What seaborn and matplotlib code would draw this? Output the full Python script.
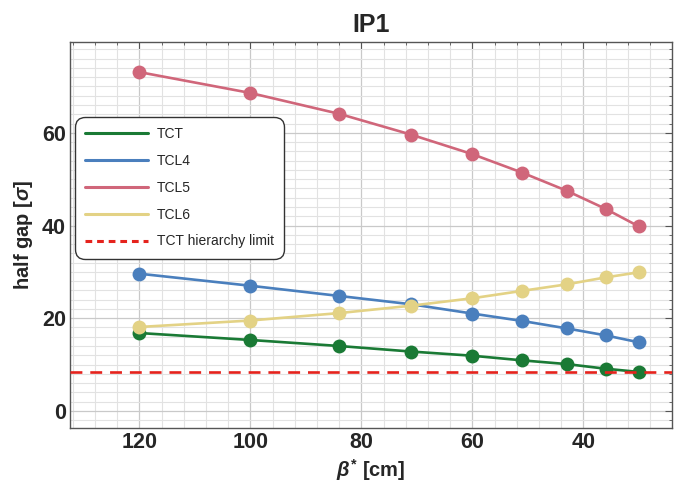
import numpy as np
import pandas as pd
import matplotlib
matplotlib.use("Agg")
import matplotlib.pyplot as plt
import seaborn as sns
from matplotlib.ticker import MultipleLocator
from matplotlib.lines import Line2D

# ---- data ----
beta_star = [120, 100, 84, 71, 60, 51, 43, 36, 30]
tct  = [16.8, 15.3, 14.0, 12.8, 11.9, 10.9, 10.1, 9.1, 8.4]
tcl4 = [29.6, 27.0, 24.8, 23.0, 21.0, 19.4, 17.8, 16.3, 14.8]
tcl5 = [73.1, 68.6, 64.1, 59.6, 55.4, 51.4, 47.5, 43.6, 39.8]
tcl6 = [18.1, 19.5, 21.1, 22.7, 24.3, 25.9, 27.3, 28.8, 29.9]
hierarchy_limit = 8.4
series_names = ["TCT", "TCL4", "TCL5", "TCL6"]
x_ticks = [120, 100, 80, 60, 40]
y_ticks = [0, 20, 40, 60]

colors = {"TCT": "#1a7a35", "TCL4": "#4a7fbd", "TCL5": "#d0667a", "TCL6": "#e3d285"}

df = pd.DataFrame({
    "beta": beta_star * 4,
    "gap": tct + tcl4 + tcl5 + tcl6,
    "series": sum([[n] * len(beta_star) for n in series_names], []),
})

sns.set_theme(style="white")
plt.rcParams["font.family"] = ["Liberation Sans", "DejaVu Sans"]
plt.rcParams["mathtext.fontset"] = "custom"
plt.rcParams["mathtext.it"] = "Liberation Sans:bold:italic"
plt.rcParams["mathtext.rm"] = "Liberation Sans:bold"
plt.rcParams["mathtext.bf"] = "Liberation Sans:bold"

fig = plt.figure(figsize=(6.75, 4.87), dpi=100)
ax = fig.add_axes([0.1037, 0.1211, 0.892, 0.7927])

# grid
ax.xaxis.set_major_locator(MultipleLocator(20))
ax.xaxis.set_minor_locator(MultipleLocator(4))
ax.yaxis.set_major_locator(MultipleLocator(20))
ax.yaxis.set_minor_locator(MultipleLocator(2))
ax.grid(which="major", color="#c9c9c9", lw=0.9, zorder=0)
ax.grid(which="minor", color="#e2e2e2", lw=0.8, zorder=0)
ax.set_axisbelow(True)

sns.lineplot(data=df, x="beta", y="gap", hue="series", palette=colors,
             marker="o", markersize=10, markeredgewidth=0, lw=1.9,
             ax=ax, legend=False, zorder=3)

ax.axhline(hierarchy_limit, color="#e5231d", lw=1.9, ls=(0, (4.5, 3)), zorder=4)

ax.set_xlim(132.5, 24)
ax.set_ylim(-3.7, 79.6)
ax.set_xticks(x_ticks)
ax.set_yticks(y_ticks)

ax.tick_params(axis="both", which="both", direction="in", top=True, right=True,
               labelsize=15.5, color="#555555")
ax.tick_params(which="major", length=5, width=0.8)
ax.tick_params(which="minor", length=2.5, width=0.6)
for lab in ax.get_xticklabels() + ax.get_yticklabels():
    lab.set_fontweight("bold")
ax.tick_params(axis="x", pad=3)
ax.tick_params(axis="y", pad=3)

for sp in ax.spines.values():
    sp.set_color("#555555")
    sp.set_linewidth(1.0)

ax.set_xlabel(r"$\beta^{*}$ [cm]", fontsize=14.5, fontweight="bold", labelpad=3)
ax.set_ylabel(r"half gap [$\sigma$]", fontsize=14.5, fontweight="bold", labelpad=5)
ax.set_title("IP1", fontsize=18, fontweight="bold", pad=7)

# legend
handles = [Line2D([], [], color=colors[n], lw=2.2) for n in series_names]
handles.append(Line2D([], [], color="#e5231d", lw=2.2, ls=(0, (2.2, 1.6))))
labels = series_names + ["TCT hierarchy limit"]
leg = ax.legend(handles, labels, loc="upper left", bbox_to_anchor=(0.008, 0.806),
                borderaxespad=0, fontsize=10, handlelength=4.5, handletextpad=0.65,
                labelspacing=0.92, borderpad=0.75, frameon=True, fancybox=True,
                framealpha=1, edgecolor="#333333")
leg.get_frame().set_linewidth(1.0)
leg.get_frame().set_boxstyle("round", pad=0, rounding_size=0.7)
leg.set_zorder(6)

fig.savefig("out.png", dpi=100)
